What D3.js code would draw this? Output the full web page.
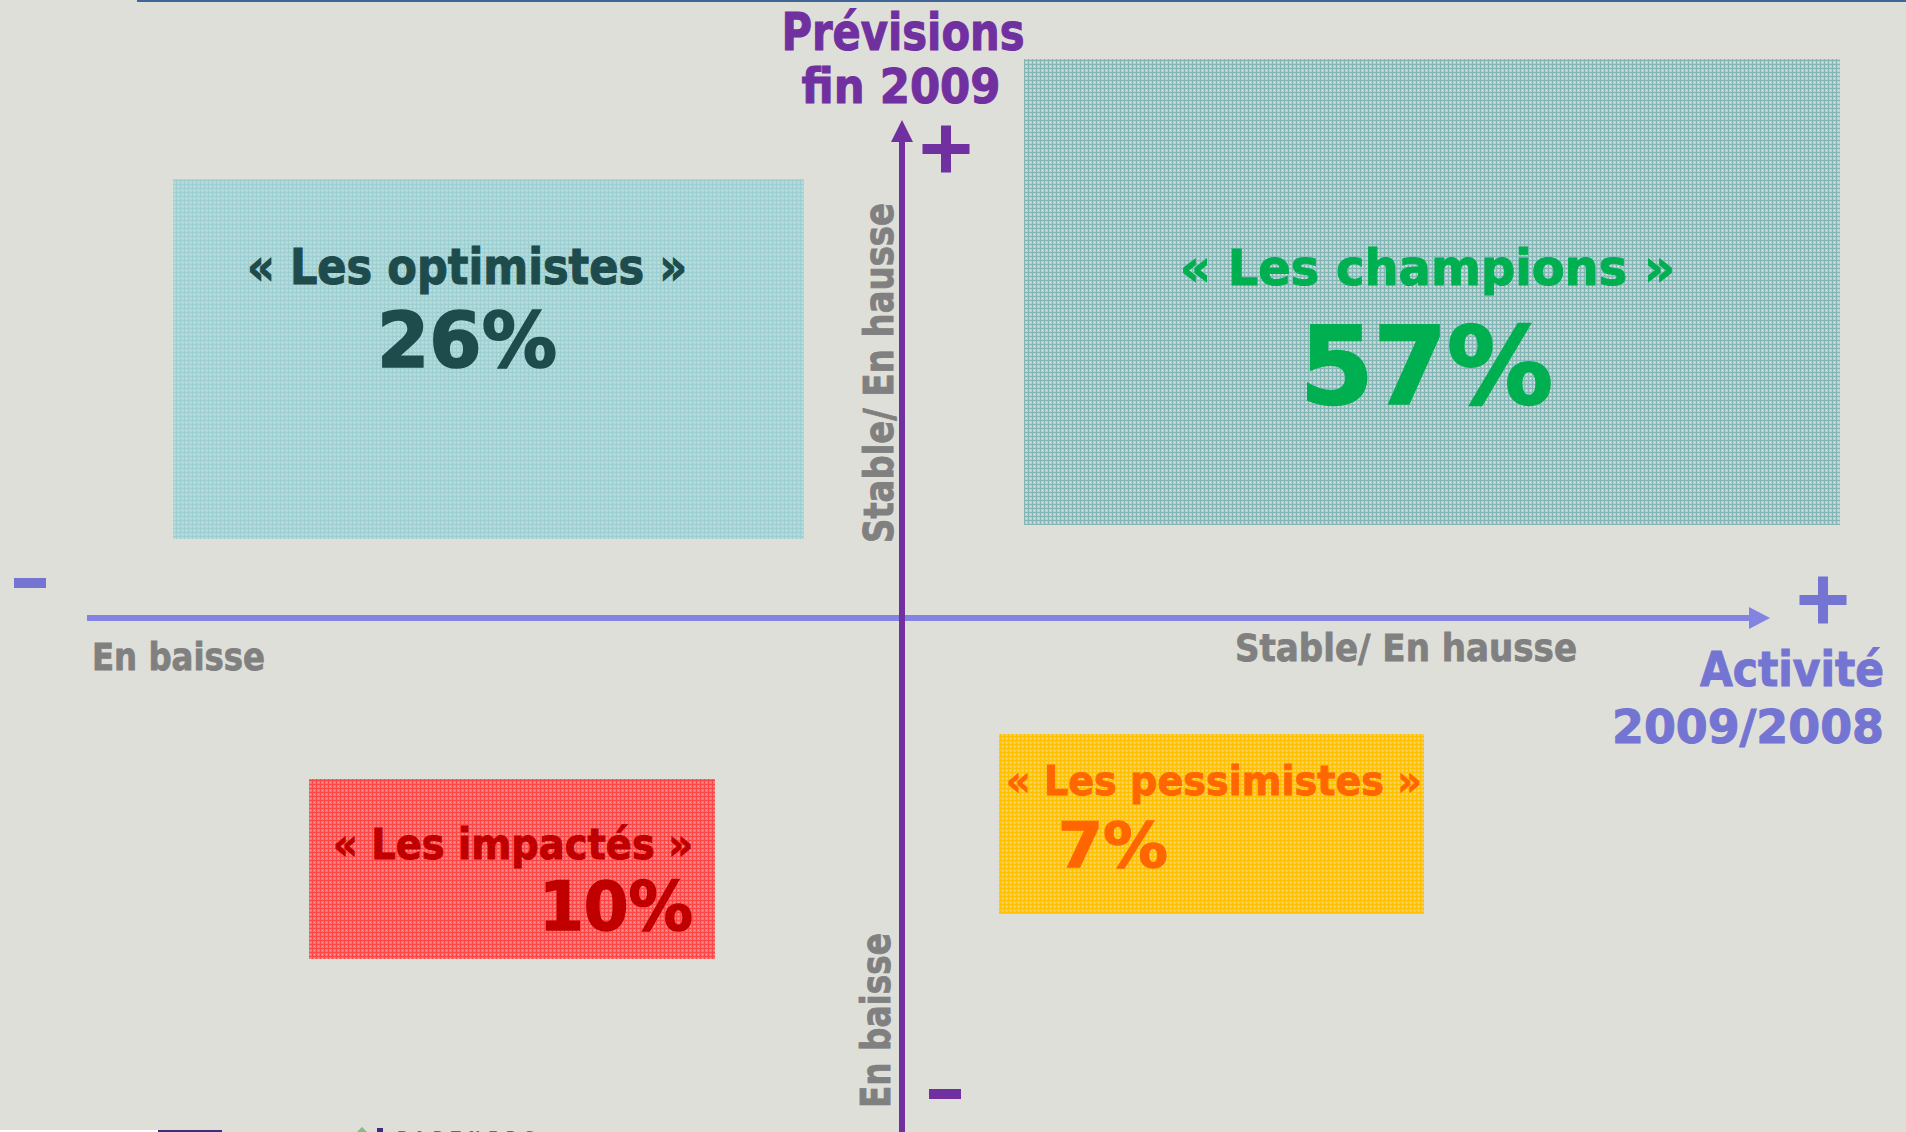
<!DOCTYPE html>
<html>
<head>
<meta charset="utf-8">
<script src="https://cdn.jsdelivr.net/npm/d3@7"></script>
<style>
  html, body { margin: 0; padding: 0; background: #dfdfd9; overflow: hidden; }
  text { font-family: "DejaVu Sans", Verdana, sans-serif; font-weight: bold; }
</style>
</head>
<body>
<div id="chart"></div>
<script>
// quadrant data
const quadrants = ["Les optimistes", "Les champions", "Les impactés", "Les pessimistes"];
const shares = [26, 57, 10, 7];
const activitySign = [-1, 1, -1, 1];   // activité 2009/2008
const forecastSign = [1, 1, -1, -1];   // prévisions fin 2009

// axis labels
const xAxisTitle = ["Activité", "2009/2008"];
const yAxisTitle = ["Prévisions", "fin 2009"];
const levelLabels = ["En baisse", "Stable/ En hausse"];
const signs = ["-", "+"];

const width = 1906, height = 1132;

// box geometry and text fitting, per quadrant (pixels)
const layout = [
  {box: [173, 179, 804, 539], fill: "opt", color: "#1e4b4b",
   t: [247, 284, 50, 440], p: [377, 367, 77, 180]},
  {box: [1024, 59, 1840, 525], fill: "champ", color: "#00b050",
   t: [1180, 285, 50, 495], p: [1300, 403, 107, 253]},
  {box: [309, 779, 715, 959], fill: "imp", color: "#c00000",
   t: [333, 859, 42, 360], p: [539, 930, 68, 154]},
  {box: [999, 734, 1424, 914], fill: "pess", color: "#ff6600",
   t: [1006, 795, 41, 416], p: [1058, 867, 62, 110]}
];

const patterns = {
  opt:   {base: "#aed8d9", line: "#9ccfd1", dot: "#c2e0e0"},
  champ: {base: "#b1cfcc", line: "#83b6b6", dot: "#e2ece8"},
  imp:   {base: "#ff6d6d", line: "#ff4646", dot: "#ff9c9c"},
  pess:  {base: "#f7ca4e", line: "#ffc000", dot: "#f9d97e"}
};

const svg = d3.select("#chart").append("svg")
    .attr("width", width)
    .attr("height", height);

svg.append("rect").attr("width", width).attr("height", height).attr("fill", "#dfdfd9");

// scales : the two axes cross at the origin
const x = d3.scaleLinear().domain([-1, 0, 1]).range([87, 902, 1770]);
const y = d3.scaleLinear().domain([-1, 0, 1]).range([1132, 618, 120]);

// textures for the boxes
const defs = svg.append("defs");
Object.entries(patterns).forEach(([k, c]) => {
  const p = defs.append("pattern")
      .attr("id", "pat-" + k)
      .attr("width", 4).attr("height", 4)
      .attr("patternUnits", "userSpaceOnUse");
  p.append("rect").attr("width", 4).attr("height", 4).attr("fill", c.base);
  p.append("rect").attr("width", 4).attr("height", 1).attr("fill", c.line);
  p.append("rect").attr("width", 1).attr("height", 4).attr("fill", c.line);
  p.append("rect").attr("x", 2).attr("y", 2).attr("width", 1).attr("height", 1).attr("fill", c.dot);
});

// top rule
svg.append("rect").attr("x", 137).attr("y", 0).attr("width", width - 137).attr("height", 2).attr("fill", "#3f6694");

// text squeezed to the measured width, slightly thickened to look like Tahoma bold
const fitText = (g, str, spec, color, anchor) => g.append("text")
    .attr("x", spec[0]).attr("y", spec[1])
    .attr("font-size", spec[2])
    .attr("textLength", spec[3])
    .attr("lengthAdjust", "spacingAndGlyphs")
    .attr("text-anchor", anchor || "start")
    .attr("fill", color)
    .attr("stroke", color)
    .attr("stroke-width", spec[2] / 45)
    .text(str);

// quadrant boxes
const boxes = svg.append("g");
quadrants.forEach((q, i) => {
  const L = layout[i];
  boxes.append("rect")
      .attr("x", L.box[0]).attr("y", L.box[1])
      .attr("width", L.box[2] - L.box[0]).attr("height", L.box[3] - L.box[1])
      .attr("fill", `url(#pat-${L.fill})`);
  fitText(boxes, "« " + q + " »", L.t, L.color);
  fitText(boxes, shares[i] + "%", L.p, L.color);
});

// horizontal axis (activité)
const axisBlue = "#8383e3", labelBlue = "#7474d2", purple = "#7030a0", grey = "#808080";
svg.append("rect")
    .attr("x", x(-1)).attr("y", y(0) - 3)
    .attr("width", x(1) - 20 - x(-1)).attr("height", 6)
    .attr("fill", axisBlue);
svg.append("path")
    .attr("d", `M${x(1)},${y(0)} L${x(1) - 21},${y(0) - 11} L${x(1) - 21},${y(0) + 11} Z`)
    .attr("fill", axisBlue);

// vertical axis (prévisions)
svg.append("rect")
    .attr("x", x(0) - 3).attr("y", y(1) + 20)
    .attr("width", 6).attr("height", y(-1) - y(1) - 20)
    .attr("fill", purple);
svg.append("path")
    .attr("d", `M${x(0)},${y(1)} L${x(0) - 11},${y(1) + 22} L${x(0) + 11},${y(1) + 22} Z`)
    .attr("fill", purple);

// plus / minus marks
const mark = (cx, cy, w, sign, color) => {
  svg.append("rect").attr("x", cx - w / 2).attr("y", cy - 5).attr("width", w).attr("height", 10).attr("fill", color);
  if (sign === "+")
    svg.append("rect").attr("x", cx - 5).attr("y", cy - w / 2).attr("width", 10).attr("height", w).attr("fill", color);
};
mark(30, 583, 32, signs[0], labelBlue);
mark(1823, 600, 47, signs[1], labelBlue);
mark(946, 149, 47, signs[1], purple);
mark(945, 1094, 32, signs[0], purple);

// level labels
fitText(svg, levelLabels[0], [92, 670, 37, 173], grey);
fitText(svg, levelLabels[1], [1235, 661, 37, 342], grey);

svg.append("g").attr("transform", "translate(893,543) rotate(-90)")
  .call(g => fitText(g, levelLabels[1], [0, 0, 41, 340], grey));
svg.append("g").attr("transform", "translate(890,1108) rotate(-90)")
  .call(g => fitText(g, levelLabels[0], [0, 0, 40, 175], grey));

// axis titles
fitText(svg, yAxisTitle[0], [903, 50, 52, 243], purple, "middle");
fitText(svg, yAxisTitle[1], [901, 103, 48, 199], purple, "middle");
fitText(svg, xAxisTitle[0], [1884, 686, 48, 184], labelBlue, "end");
fitText(svg, xAxisTitle[1], [1884, 743, 47, 272], labelBlue, "end");

// cut-off logo at the bottom
svg.append("rect").attr("x", 0).attr("y", 1130).attr("width", 158).attr("height", 2).attr("fill", "#ffffff");
svg.append("rect").attr("x", 158).attr("y", 1130).attr("width", 64).attr("height", 2).attr("fill", "#3a2f7a");
svg.append("path").attr("d", "M357,1132 L362,1127 L367,1132 Z").attr("fill", "#7fbf7f");
svg.append("rect").attr("x", 377).attr("y", 1128).attr("width", 6).attr("height", 4).attr("fill", "#3a2f7a");
svg.append("text").attr("x", 397).attr("y", 1141).attr("font-size", 14)
    .attr("letter-spacing", 8).attr("fill", "#6a5fa6").text("PARTNERS");
</script>
</body>
</html>
